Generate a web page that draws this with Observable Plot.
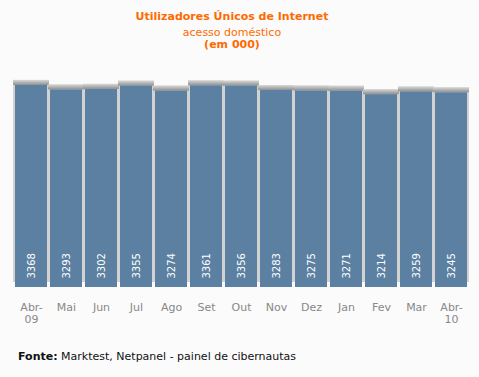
<!DOCTYPE html>
<html>
<head>
<meta charset="utf-8">
<script src="https://cdn.jsdelivr.net/npm/d3@7"></script>
<script src="https://cdn.jsdelivr.net/npm/@observablehq/plot@0.6"></script>
<style>
  html, body { margin: 0; padding: 0; background: #fbfbfb; }
  #wrap { position: relative; width: 479px; height: 377px; overflow: hidden; font-family: "DejaVu Sans", Verdana, sans-serif; }
  .t { position: absolute; left: 0; width: 464px; text-align: center; color: #ff6a00; font-size: 11px; line-height: 13px; white-space: nowrap; }
  #chart { position: absolute; left: 0; top: 55px; }
  #foot { position: absolute; left: 18px; top: 350px; font-size: 11px; line-height: 13px; color: #111; white-space: nowrap; }
</style>
</head>
<body>
<div id="wrap">
  <div class="t" style="top:10px;font-weight:bold;">Utilizadores Únicos de Internet</div>
  <div class="t" style="top:26px;">acesso doméstico</div>
  <div class="t" style="top:38px;font-weight:bold;">(em 000)</div>
  <div id="chart"></div>
  <div id="foot"><b>Fonte:</b> Marktest, Netpanel - painel de cibernautas</div>
</div>
<script>
const months = ["Abr-\n09", "Mai", "Jun", "Jul", "Ago", "Set", "Out", "Nov", "Dez", "Jan", "Fev", "Mar", "Abr-\n10"];
const users = [3368, 3293, 3302, 3355, 3274, 3361, 3356, 3283, 3275, 3271, 3214, 3259, 3245];

const data = months.map((m, i) => ({month: m, value: users[i]}));

const plot = Plot.plot({
  width: 479,
  height: 280,
  marginTop: 22,
  marginBottom: 48,
  marginLeft: 8,
  marginRight: 6,
  style: {background: "transparent", fontFamily: "DejaVu Sans, Verdana, sans-serif"},
  x: {domain: months, padding: 0.1, label: null},
  y: {domain: [0, 3500], axis: null},
  marks: [
    // side shadow
    Plot.barY(data, {x: "month", y: "value", dy: -5, insetLeft: -2, insetRight: -2, fill: "#d2d2d2"}),
    // top shadow strip
    Plot.barY(data, {x: "month", y1: "value", y2: "value", insetTop: -5, insetLeft: -2, insetRight: -2, fill: "url(#topShade)"}),
    Plot.barY(data, {x: "month", y: "value", fill: "#5b80a1"}),
    Plot.text(data, {x: "month", y: 0, text: d => String(d.value), rotate: -90, textAnchor: "start", dy: -9, fill: "white", fontSize: 10}),
    Plot.axisX({tickSize: 0, tickPadding: 15, fontSize: 11, fill: "#888", lineHeight: 1.1, label: null})
  ]
});

const svg = d3.select(plot);
const defs = svg.insert("defs", ":first-child");
const g = defs.append("linearGradient").attr("id", "topShade").attr("x1", 0).attr("y1", 0).attr("x2", 0).attr("y2", 1);
g.append("stop").attr("offset", "0%").attr("stop-color", "#d8d8d8");
g.append("stop").attr("offset", "100%").attr("stop-color", "#8f8f8f");

document.getElementById("chart").appendChild(plot);
</script>
</body>
</html>
